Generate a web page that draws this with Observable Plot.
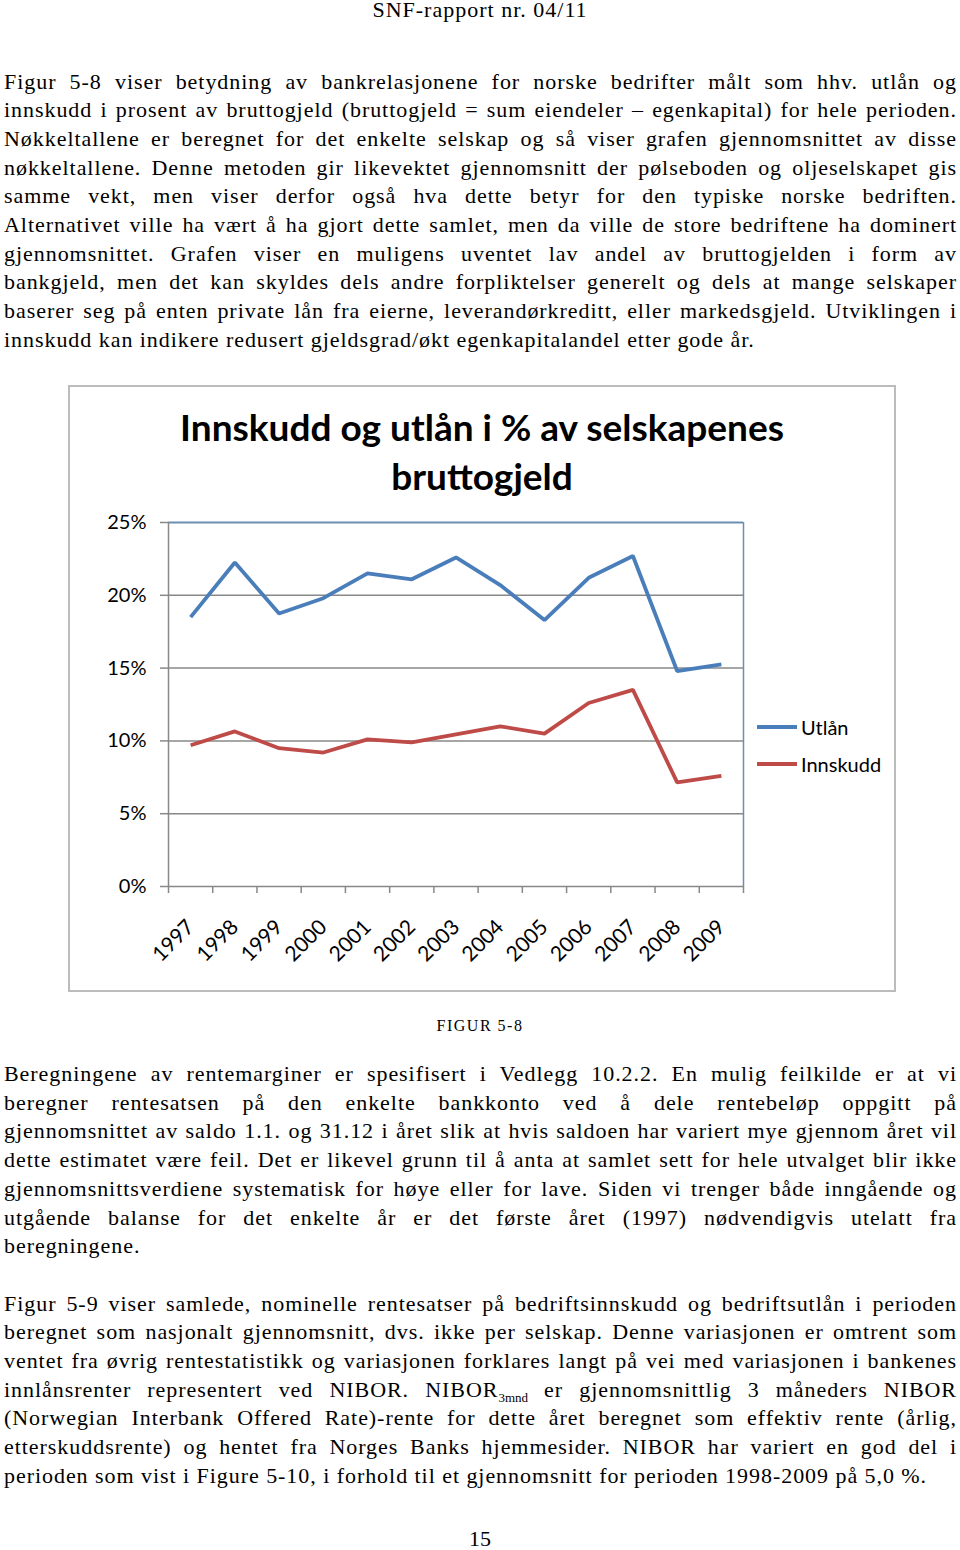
<!DOCTYPE html>
<html><head><meta charset="utf-8">
<script src="https://cdn.jsdelivr.net/npm/d3@7"></script>
<script src="https://cdn.jsdelivr.net/npm/@observablehq/plot@0.6"></script>
<style>
html,body{margin:0;padding:0;background:#fff}
body{width:960px;height:1550px;position:relative;overflow:hidden;font-family:"Liberation Serif",serif;color:#000}
.p{position:absolute;left:4px;width:953px;font-size:22px;line-height:28.7px;letter-spacing:0.95px}
.p div{text-align:justify;text-align-last:justify}
.p div.last{text-align:left;text-align-last:left}
.hdr{position:absolute;left:0;width:960px;text-align:center}
#chart{position:absolute;left:68px;top:385px;width:828px;height:607px}
#chart svg{position:absolute;left:0;top:0;overflow:visible}
#frame{position:absolute;left:0;top:0;width:828px;height:607px;box-sizing:border-box;border:2px solid #bcbcbc;pointer-events:none}
#legend{position:absolute;left:689px;top:323px;font-family:Lato,sans-serif;font-size:20px}
#legend .item{display:flex;align-items:center;height:37px}
#legend .sw{width:40px;height:4px;margin-right:4px}
sub{font-size:13px;line-height:0;letter-spacing:0}
</style>
</head><body>
<div class="hdr" style="top:-3px;font-size:22px;letter-spacing:1px;">SNF-rapport nr. 04/11</div>

<div class="p" id="p1" style="top:67.5px;"></div>

<div id="chart"><div id="frame"></div><div id="legend"></div></div>

<div class="hdr" style="top:1017px;font-size:16px;letter-spacing:1.5px;">FIGUR 5-8</div>

<div class="p" id="p2" style="top:1060px;"></div>
<div class="p" id="p3" style="top:1289.5px;"></div>

<div class="hdr" style="top:1526px;font-size:22px;">15</div>

<script>
// ---- Chart data ----
const years = [1997, 1998, 1999, 2000, 2001, 2002, 2003, 2004, 2005, 2006, 2007, 2008, 2009];
const utlan = [0.185, 0.2225, 0.1875, 0.198, 0.215, 0.211, 0.226, 0.207, 0.183, 0.212, 0.227, 0.148, 0.1525];
const innskudd = [0.097, 0.1065, 0.095, 0.092, 0.101, 0.099, 0.1045, 0.110, 0.105, 0.126, 0.135, 0.0715, 0.076];
const seriesNames = ["Utlån", "Innskudd"];
const seriesColors = ["#4a7ebb", "#be4b48"];
const yTicks = [0, 0.05, 0.10, 0.15, 0.20, 0.25];
const titleLines = ["Innskudd og utlån i % av selskapenes", "bruttogjeld"];

// ---- Body text ----
const para1 = [
  "Figur 5-8 viser betydning av bankrelasjonene for norske bedrifter målt som hhv. utlån og",
  "innskudd i prosent av bruttogjeld (bruttogjeld = sum eiendeler – egenkapital) for hele perioden.",
  "Nøkkeltallene er beregnet for det enkelte selskap og så viser grafen gjennomsnittet av disse",
  "nøkkeltallene.  Denne metoden gir likevektet gjennomsnitt der pølseboden og oljeselskapet gis",
  "samme vekt, men viser derfor også hva dette betyr for den typiske norske bedriften.",
  "Alternativet ville ha vært å ha gjort dette samlet, men da ville de store bedriftene ha dominert",
  "gjennomsnittet. Grafen viser en muligens uventet lav andel av bruttogjelden i form av",
  "bankgjeld, men det kan skyldes dels andre forpliktelser generelt og dels at mange selskaper",
  "baserer seg på enten private lån fra eierne, leverandørkreditt, eller markedsgjeld. Utviklingen i",
  "innskudd kan indikere redusert gjeldsgrad/økt egenkapitalandel etter gode år."
];
const para2 = [
  "Beregningene av rentemarginer er spesifisert i Vedlegg 10.2.2. En mulig feilkilde er at vi",
  "beregner rentesatsen på den enkelte bankkonto ved å dele rentebeløp oppgitt på",
  "gjennomsnittet av saldo 1.1. og 31.12 i året slik at hvis saldoen har variert mye gjennom året vil",
  "dette estimatet være feil. Det er likevel grunn til å anta at samlet sett for hele utvalget blir ikke",
  "gjennomsnittsverdiene systematisk for høye eller for lave. Siden vi trenger både inngående og",
  "utgående balanse for det enkelte år er det første året (1997) nødvendigvis utelatt fra",
  "beregningene."
];
const para3 = [
  "Figur 5-9 viser samlede, nominelle rentesatser på bedriftsinnskudd og bedriftsutlån i perioden",
  "beregnet som nasjonalt gjennomsnitt, dvs. ikke per selskap. Denne variasjonen er omtrent som",
  "ventet fra øvrig rentestatistikk og variasjonen forklares langt på vei med variasjonen i bankenes",
  "innlånsrenter representert ved NIBOR. NIBOR<sub>3mnd</sub> er gjennomsnittlig 3 måneders NIBOR",
  "(Norwegian Interbank Offered Rate)-rente for dette året beregnet som effektiv rente (årlig,",
  "etterskuddsrente) og hentet fra Norges Banks hjemmesider. NIBOR har variert en god del i",
  "perioden som vist i Figure 5-10, i forhold til et gjennomsnitt for perioden 1998-2009 på 5,0 %."
];
function fill(id, lines) {
  const el = document.getElementById(id);
  lines.forEach((t, i) => {
    const d = document.createElement("div");
    if (i === lines.length - 1) d.className = "last";
    d.innerHTML = t;
    el.appendChild(d);
    // safety: keep each source line on a single line
    let ls = 0.95;
    while (d.getBoundingClientRect().height > 30 && ls > -1) {
      ls -= 0.1;
      d.style.letterSpacing = ls + "px";
    }
  });
}
fill("p1", para1); fill("p2", para2); fill("p3", para3);

// ---- Build chart ----
const data = [];
seriesNames.forEach((s, si) => {
  const vals = si === 0 ? utlan : innskudd;
  years.forEach((y, i) => data.push({year: y, value: vals[i], series: s}));
});
const boundaries = years.map(y => y - 0.5).concat([years[years.length - 1] + 0.5]);
const xDomain = [boundaries[0], boundaries[boundaries.length - 1]];
const font = "Lato, sans-serif";

const chart = Plot.plot({
  width: 828,
  height: 607,
  marginLeft: 100,
  marginRight: 153,
  marginTop: 137,
  marginBottom: 106,
  style: {fontFamily: font, background: "transparent", color: "#000"},
  x: {domain: xDomain, axis: null, label: null},
  y: {domain: [0, 0.25], axis: null, label: null},
  color: {domain: seriesNames, range: seriesColors},
  marks: [
    Plot.gridY(yTicks.slice(0, -1), {stroke: "#888", strokeOpacity: 1, strokeWidth: 1.5}),
    Plot.ruleY([yTicks[yTicks.length - 1]], {stroke: "#6d8eb0", strokeWidth: 2}),
    Plot.ruleX([xDomain[1]], {stroke: "#6d8eb0", strokeWidth: 1.5}),
    Plot.ruleX([xDomain[0]], {stroke: "#888", strokeWidth: 1.5}),
    Plot.axisY({ticks: yTicks, tickFormat: d3.format(".0%"), tickSize: 8, tickPadding: 14,
      fontSize: 20, stroke: "#888", strokeWidth: 1.5, fill: "#000", label: null}),
    Plot.axisX({ticks: boundaries, tickFormat: () => "", tickSize: 7, stroke: "#888",
      strokeWidth: 1.5, label: null}),
    Plot.axisX({ticks: years, tickFormat: d => String(d), tickSize: 0, tickPadding: 37,
      tickRotate: -45, fontSize: 21, fill: "#000", label: null}),
    Plot.line(data, {x: "year", y: "value", z: "series", stroke: "series", strokeWidth: 3.8,
      strokeLinejoin: "miter", strokeLinecap: "butt"}),
    Plot.text([titleLines[0]], {text: d => d, frameAnchor: "top", dx: 26, dy: -108,
      fontSize: 37, fontWeight: "bold", fill: "#000"}),
    Plot.text([titleLines[1]], {text: d => d, frameAnchor: "top", dx: 26, dy: -59,
      fontSize: 37, fontWeight: "bold", fill: "#000"})
  ]
});
const container = document.getElementById("chart");
container.insertBefore(chart, container.firstChild);

const legend = document.getElementById("legend");
seriesNames.forEach((s, i) => {
  const it = document.createElement("div");
  it.className = "item";
  it.innerHTML = `<span class="sw" style="background:${seriesColors[i]}"></span><span>${s}</span>`;
  legend.appendChild(it);
});
</script>
</body></html>
